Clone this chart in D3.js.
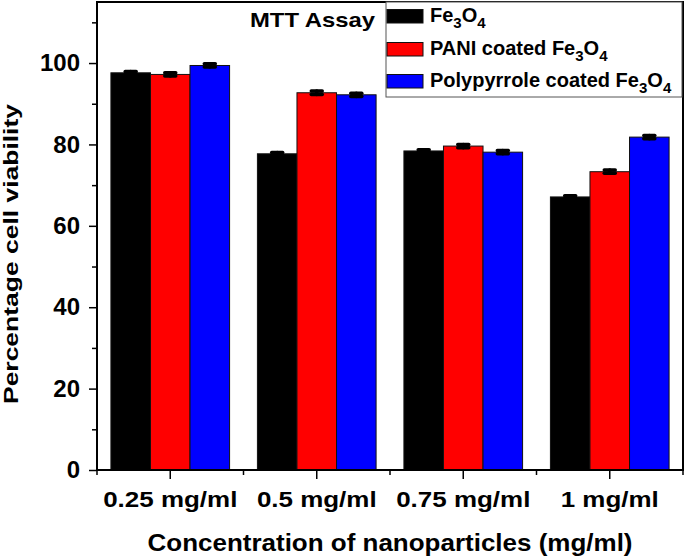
<!DOCTYPE html>
<html>
<head>
<meta charset="utf-8">
<script src="https://cdn.jsdelivr.net/npm/d3@7"></script>
<style>
body { margin: 0; background: #fff; }
text { font-family: "Liberation Sans", Arial, sans-serif; font-weight: bold; fill: #000; }
.bar { stroke: #111; stroke-width: 1; }
.err { stroke: #000; stroke-width: 3.5; stroke-linecap: round; }
</style>
</head>
<body>
<script>
// data
var categories = ["0.25 mg/ml", "0.5 mg/ml", "0.75 mg/ml", "1 mg/ml"];
var seriesNames = ["Fe3O4", "PANI coated Fe3O4", "Polypyrrole coated Fe3O4"];
var fe3o4 = [97.6, 77.7, 78.4, 67.1];
var pani = [97.2, 92.7, 79.6, 73.3];
var ppy = [99.4, 92.2, 78.1, 81.8];
var fe3o4Err = [0.3, 0.3, 0.3, 0.3];
var paniErr = [0.4, 0.4, 0.4, 0.4];
var ppyErr = [0.4, 0.4, 0.4, 0.4];
var yTicks = [0, 20, 40, 60, 80, 100];
var yMinor = [10, 30, 50, 70, 90, 110];
var colors = ["#000000", "#ff0000", "#0000ff"];

var W = 685, H = 558;
// plot box (window.top is read-only, so no "top" here)
var pLeft = 97, pRight = 683, pTop = 2, pBottom = 470;

var svg = d3.select("body").append("svg")
    .attr("width", W)
    .attr("height", H);

var x0 = d3.scaleBand().domain(categories).range([pLeft, pRight]).padding(0);
var groupW = x0.bandwidth() * 0.81;
var x1 = d3.scaleBand().domain(seriesNames).range([0, groupW]).padding(0);
var y = d3.scaleLinear().domain([0, 115]).range([pBottom, pTop]);

var rows = categories.map(function(c, i) {
  return [
    {cat: c, s: seriesNames[0], v: fe3o4[i], e: fe3o4Err[i], col: colors[0]},
    {cat: c, s: seriesNames[1], v: pani[i], e: paniErr[i], col: colors[1]},
    {cat: c, s: seriesNames[2], v: ppy[i], e: ppyErr[i], col: colors[2]}
  ];
});

var groups = svg.selectAll(".grp")
    .data(rows)
  .enter().append("g")
    .attr("class", "grp")
    .attr("transform", function(d, i) {
      return "translate(" + (x0(categories[i]) + (x0.bandwidth() - groupW) / 2) + ",0)";
    });

groups.selectAll("rect")
    .data(function(d) { return d; })
  .enter().append("rect")
    .attr("class", "bar")
    .attr("x", function(d) { return x1(d.s); })
    .attr("width", x1.bandwidth())
    .attr("y", function(d) { return y(d.v); })
    .attr("height", function(d) { return y(0) - y(d.v); })
    .style("fill", function(d) { return d.col; });

// error bars (small pill-like caps)
groups.selectAll(".eb")
    .data(function(d) { return d; })
  .enter().append("g")
    .attr("class", "eb")
    .each(function(d) {
      var g = d3.select(this);
      var cx = x1(d.s) + x1.bandwidth() / 2;
      g.append("line").attr("class", "err")
        .attr("x1", cx).attr("x2", cx).attr("y1", y(d.v + d.e)).attr("y2", y(d.v - d.e));
      g.append("line").attr("class", "err")
        .attr("x1", cx - 5.5).attr("x2", cx + 5.5).attr("y1", y(d.v + d.e)).attr("y2", y(d.v + d.e));
      g.append("line").attr("class", "err")
        .attr("x1", cx - 5.5).attr("x2", cx + 5.5).attr("y1", y(d.v - d.e)).attr("y2", y(d.v - d.e));
    });

// y axis
var yAxis = svg.append("g")
    .attr("transform", "translate(" + pLeft + ",0)")
    .call(d3.axisLeft(y).tickValues(yTicks).tickSize(8).tickPadding(9).tickFormat(d3.format("d")));
yAxis.select(".domain").remove();
yAxis.selectAll("line").attr("stroke", "#000").attr("stroke-width", 1.5);
yAxis.selectAll("text").style("font-size", "24px").style("font-family", null);

svg.append("g")
    .attr("transform", "translate(" + pLeft + ",0)")
    .call(d3.axisLeft(y).tickValues(yMinor).tickSize(5).tickFormat(""))
    .call(function(g) { g.select(".domain").remove(); })
    .selectAll("line").attr("stroke", "#000").attr("stroke-width", 1.5);

// x axis
var xAxis = svg.append("g")
    .attr("transform", "translate(0," + pBottom + ")")
    .call(d3.axisBottom(x0).tickSize(9).tickPadding(12));
xAxis.select(".domain").remove();
xAxis.selectAll("line").attr("stroke", "#000").attr("stroke-width", 1.5);
xAxis.selectAll("text")
    .style("font-size", "22px")
    .style("font-family", null)
    .attr("dy", "0.72em")
    .each(function() {
      var len = this.getComputedTextLength();
      d3.select(this).attr("textLength", len * 1.18).attr("lengthAdjust", "spacingAndGlyphs");
    });

var bounds = categories.map(function(c) { return x0(c); }).concat([pRight]);
svg.append("g").selectAll("line")
    .data(bounds)
  .enter().append("line")
    .attr("x1", function(d) { return d; })
    .attr("x2", function(d) { return d; })
    .attr("y1", pBottom)
    .attr("y2", pBottom + 5)
    .attr("stroke", "#000")
    .attr("stroke-width", 1.5);

// frame
svg.append("rect")
    .attr("x", pLeft)
    .attr("y", pTop)
    .attr("width", pRight - pLeft)
    .attr("height", pBottom - pTop)
    .style("fill", "none")
    .style("stroke", "#000")
    .style("stroke-width", 2);

// axis titles
svg.append("text")
    .attr("x", (pLeft + pRight) / 2)
    .attr("y", 551)
    .attr("text-anchor", "middle")
    .style("font-size", "24px")
    .attr("textLength", 485)
    .attr("lengthAdjust", "spacingAndGlyphs")
    .text("Concentration of nanoparticles (mg/ml)");

svg.append("text")
    .attr("transform", "translate(17.5,254) rotate(-90)")
    .attr("text-anchor", "middle")
    .style("font-size", "20px")
    .attr("textLength", 300)
    .attr("lengthAdjust", "spacingAndGlyphs")
    .text("Percentage cell viability");

// title
svg.append("text")
    .attr("x", 250)
    .attr("y", 27)
    .style("font-size", "21px")
    .attr("textLength", 125)
    .attr("lengthAdjust", "spacingAndGlyphs")
    .text("MTT Assay");

// legend
var legend = svg.append("g");
legend.append("rect")
    .attr("x", 386)
    .attr("y", pTop)
    .attr("width", 296)
    .attr("height", 95)
    .style("fill", "#fff")
    .style("stroke", "#555")
    .style("stroke-width", 1);

var legendPre = ["", "PANI coated ", "Polypyrrole coated "];
var baselines = [22, 55, 87];
seriesNames.forEach(function(s, i) {
  legend.append("rect")
      .attr("x", 387)
      .attr("y", baselines[i] - 12.5)
      .attr("width", 36)
      .attr("height", 13.5)
      .style("fill", colors[i])
      .style("stroke", "#111")
      .style("stroke-width", 1);
  var t = legend.append("text")
      .attr("x", 430)
      .attr("y", baselines[i])
      .style("font-size", "20px");
  t.append("tspan").text(legendPre[i] + "Fe");
  t.append("tspan").attr("dy", 6).style("font-size", "15px").text("3");
  t.append("tspan").attr("dy", -6).text("O");
  t.append("tspan").attr("dy", 6).style("font-size", "15px").text("4");
});
</script>
</body>
</html>
